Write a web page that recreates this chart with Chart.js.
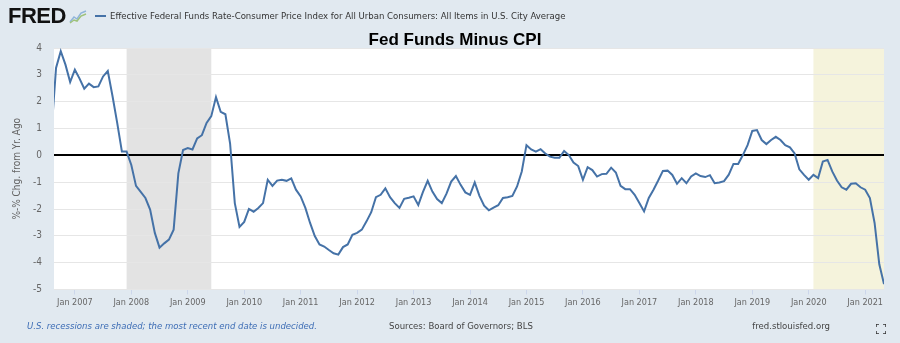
<!doctype html>
<html lang="en">
<head>
<meta charset="UTF-8" />
<title>Fed Funds Minus CPI</title>
<script src="https://cdn.jsdelivr.net/npm/chart.js"></script>
<style>
  body {
    margin: 0;
    width: 900px;
    height: 343px;
    background: #e1e9f0;
    position: relative;
    overflow: hidden;
    font-family: "Liberation Sans Narrow", "DejaVu Sans Condensed", "Liberation Sans", Arial, sans-serif;
  }
  #chart { position: absolute; left: 0; top: 0; }
  .txt { position: absolute; white-space: nowrap; }
  #logo { left: 8px; top: 5px; font: bold 22px/22px "Liberation Sans", Arial, sans-serif; color: #111; letter-spacing: -0.5px; }
  #logoIcon { position: absolute; left: 69px; top: 9px; }
  #legendLine { position: absolute; left: 95px; top: 15px; width: 11px; height: 2px; background: #4572a7; }
  #legend { left: 110px; top: 9px; font-size: 9.5px; line-height: 14px; color: #333; }
  #title { left: 455px; top: 31px; transform: translateX(-50%); font: bold 17px/18px "Liberation Sans", Arial, sans-serif; color: #000; }
  #note { left: 27px; top: 319px; font-size: 9.5px; line-height: 14px; font-style: italic; color: #3d6db5; }
  #source { left: 389px; top: 319px; font-size: 9.5px; line-height: 14px; color: #444; }
  #site { right: 70px; top: 319px; font-size: 9.5px; line-height: 14px; color: #444; }
  #expand { position: absolute; left: 876px; top: 324px; }
</style>
</head>
<body>
<canvas id="chart" width="900" height="343"></canvas>

<div class="txt" id="logo">FRED</div>
<svg id="logoIcon" width="18" height="15" viewBox="0 0 18 15">
  <polyline points="1,13 5,8 8,10 12,4 17,2" fill="none" stroke="#8fb4d9" stroke-width="1.5" />
  <polyline points="1,14 5,11 8,12 12,7 17,5" fill="none" stroke="#9ec27a" stroke-width="1.5" />
</svg>
<div id="legendLine"></div>
<div class="txt" id="legend">Effective Federal Funds Rate-Consumer Price Index for All Urban Consumers: All Items in U.S. City Average</div>
<div class="txt" id="title">Fed Funds Minus CPI</div>
<div class="txt" id="note">U.S. recessions are shaded; the most recent end date is undecided.</div>
<div class="txt" id="source">Sources: Board of Governors; BLS</div>
<div class="txt" id="site">fred.stlouisfed.org</div>
<svg id="expand" width="10" height="10" viewBox="0 0 10 10">
  <path d="M0,3 V0 H3 M7,0 H10 V3 M10,7 V10 H7 M3,10 H0 V7" fill="none" stroke="#333" stroke-width="1.5" />
</svg>

<script>
// monthly series, first value is Aug 2006
const firstMonth = "2006-08";
const values = [
    // 2006 Aug-Dec
    0.8, 3.26, 3.88, 3.38, 2.73,
    // 2007
    3.19, 2.86, 2.48, 2.67, 2.54, 2.57, 2.94, 3.14, 2.21, 1.21, 0.14, 0.14,
    // 2008
    -0.36, -1.14, -1.36, -1.59, -2.02, -2.89, -3.44, -3.28, -3.14, -2.77, -0.67, 0.2,
    // 2009
    0.27, 0.22, 0.63, 0.75, 1.21, 1.46, 2.17, 1.62, 1.53, 0.44, -1.78, -2.67,
    // 2010
    -2.48, -2.0, -2.1, -1.96, -1.78, -0.91, -1.14, -0.94, -0.91, -0.95, -0.86, -1.28,
    // 2011
    -1.53, -1.96, -2.52, -3.01, -3.32, -3.4, -3.53, -3.65, -3.7, -3.42, -3.32, -2.96,
    // 2012
    -2.89, -2.77, -2.46, -2.12, -1.56, -1.47, -1.23, -1.56, -1.78, -1.96, -1.62, -1.58,
    // 2013
    -1.53, -1.85, -1.36, -0.95, -1.35, -1.63, -1.78, -1.43, -0.98, -0.77, -1.1, -1.38,
    // 2014
    -1.47, -1.01, -1.51, -1.88, -2.05, -1.95, -1.86, -1.59, -1.56, -1.51, -1.16, -0.6,
    // 2015
    0.38, 0.22, 0.14, 0.23, 0.07, -0.05, -0.09, -0.09, 0.16, 0.01, -0.27, -0.4,
    // 2016
    -0.91, -0.44, -0.55, -0.79, -0.7, -0.69, -0.46, -0.64, -1.14, -1.26, -1.26, -1.47,
    // 2017
    -1.78, -2.09, -1.59, -1.28, -0.94, -0.58, -0.57, -0.73, -1.06, -0.85, -1.04, -0.79,
    // 2018
    -0.67, -0.77, -0.81, -0.74, -1.04, -1.01, -0.96, -0.72, -0.32, -0.32, 0.01, 0.38,
    // 2019
    0.91, 0.94, 0.57, 0.42, 0.57, 0.69, 0.57, 0.38, 0.3, 0.07, -0.52, -0.73,
    // 2020
    -0.91, -0.73, -0.85, -0.23, -0.17, -0.6, -0.94, -1.19, -1.28, -1.06, -1.04, -1.19,
    // 2021 Jan-May
    -1.28, -1.59, -2.52, -4.06, -4.8
];

const yearTicks = ["Jan 2007", "Jan 2008", "Jan 2009", "Jan 2010", "Jan 2011", "Jan 2012", "Jan 2013",
    "Jan 2014", "Jan 2015", "Jan 2016", "Jan 2017", "Jan 2018", "Jan 2019", "Jan 2020", "Jan 2021"];
const yTicks = [4, 3, 2, 1, 0, -1, -2, -3, -4, -5];

// recession bands, null = still open
const recessions = [
    { from: "2007-12", to: "2009-06", color: "#e3e3e3" },
    { from: "2020-02", to: null, color: "#f5f3dc" }
];
const viewStart = "2006-08-18";

// months counted from Jan 2007
function monthIndex(s) {
    const p = s.split("-").map(Number);
    let m = (p[0] - 2007) * 12 + (p[1] - 1);
    if (p[2]) m += (p[2] - 1) / 30;
    return m;
}

const start = monthIndex(firstMonth);
const points = values.map((v, i) => ({ x: start + i, y: v }));
const lastX = start + values.length - 1;

const narrow = '"Liberation Sans Narrow", "DejaVu Sans Condensed", "Liberation Sans", Arial, sans-serif';

const plotBands = {
    id: "plotBands",
    beforeDraw(chart) {
        const { ctx, chartArea: a, scales } = chart;
        ctx.save();
        ctx.fillStyle = "#ffffff";
        ctx.fillRect(a.left, a.top, a.right - a.left, a.bottom - a.top);
        recessions.forEach((r) => {
            const x1 = scales.x.getPixelForValue(monthIndex(r.from));
            const x2 = r.to ? scales.x.getPixelForValue(monthIndex(r.to)) : a.right;
            ctx.fillStyle = r.color;
            ctx.fillRect(Math.max(x1, a.left), a.top, Math.min(x2, a.right) - Math.max(x1, a.left), a.bottom - a.top);
        });
        ctx.restore();
    }
};

new Chart(document.getElementById("chart"), {
    type: "line",
    data: {
        datasets: [{
            label: "Effective Federal Funds Rate-Consumer Price Index",
            data: points,
            borderColor: "#4572a7",
            borderWidth: 2,
            pointRadius: 0,
            tension: 0
        }]
    },
    options: {
        responsive: false,
        animation: false,
        devicePixelRatio: 1,
        layout: { padding: { left: 0, top: 48, right: 16, bottom: 0 } },
        plugins: { legend: { display: false }, tooltip: { enabled: false } },
        scales: {
            x: {
                type: "linear",
                min: monthIndex(viewStart),
                max: lastX,
                afterFit: (s) => { s.height = 53.5; },
                afterBuildTicks: (s) => { s.ticks = yearTicks.map((t, i) => ({ value: i * 12 })); },
                grid: { drawOnChartArea: false, drawTicks: true, tickLength: 5, color: "#ccd6eb" },
                border: { display: false },
                ticks: {
                    padding: 3,
                    maxRotation: 0,
                    autoSkip: false,
                    color: "#666",
                    font: { family: narrow, size: 9 },
                    callback: (v) => yearTicks[Math.round(v / 12)]
                }
            },
            y: {
                min: -5,
                max: 4,
                afterFit: (s) => { s.width = 54; },
                afterBuildTicks: (s) => { s.ticks = yTicks.map((v) => ({ value: v })); },
                grid: {
                    drawTicks: false,
                    color: (c) => (c.tick && c.tick.value === 0 ? "#000000" : "#e6e6e6"),
                    lineWidth: (c) => (c.tick && c.tick.value === 0 ? 2 : 1)
                },
                border: { display: false },
                ticks: { padding: 12, color: "#666", font: { family: narrow, size: 10 } },
                title: {
                    display: true,
                    text: "%-% Chg. from Yr. Ago",
                    color: "#666",
                    font: { family: narrow, size: 10 },
                    padding: { top: 11, bottom: 0 }
                }
            }
        }
    },
    plugins: [plotBands]
});
</script>
</body>
</html>
